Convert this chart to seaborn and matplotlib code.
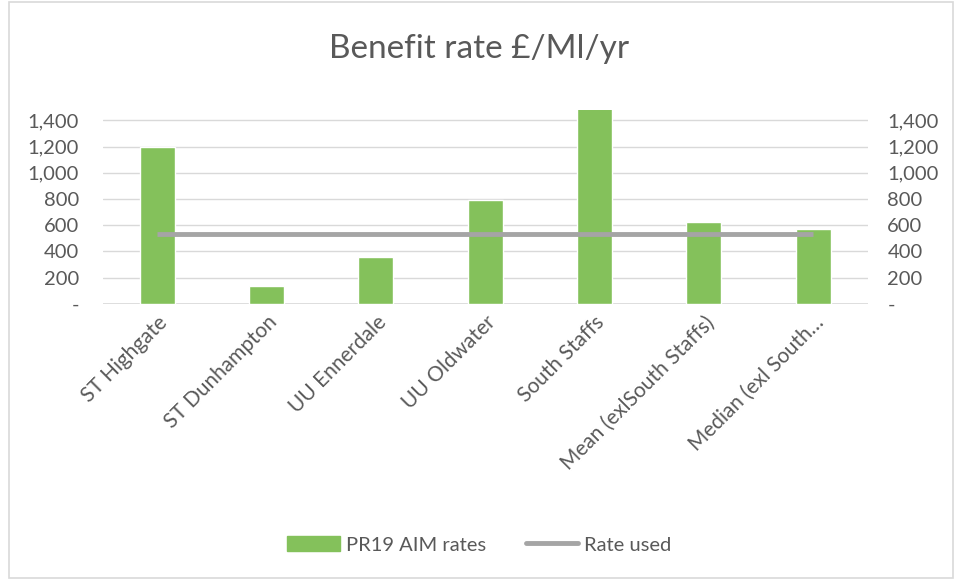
import numpy as np
import seaborn as sns
import matplotlib.pyplot as plt
from matplotlib.patches import Rectangle, Patch
from matplotlib.lines import Line2D

# data
categories = ['ST Highgate', 'ST Dunhampton', 'UU Ennerdale', 'UU Oldwater',
              'South Staffs', 'Mean (exlSouth Staffs)', 'Median (exl South\u2026']
aim_rates = [1200, 135, 360, 795, 2400, 625, 570]
rate_used = [535, 535, 535, 535, 535, 535, 535]
yticks = [0, 200, 400, 600, 800, 1000, 1200, 1400]
ytick_labels = ['-', '200', '400', '600', '800', '1,000', '1,200', '1,400']

sns.set_style('white')
plt.rcParams['font.family'] = ['Lato', 'DejaVu Sans']
grey_txt = '#595959'
green = '#84C15B'
line_grey = '#A5A5A5'

fig = plt.figure(figsize=(9.59, 5.81), dpi=100)
ax = fig.add_axes([0.107, 0.477, 0.798, 0.334])

sns.barplot(x=categories, y=aim_rates, color=green, width=0.32,
            saturation=1, ax=ax, zorder=2)
ax.plot(np.arange(len(categories)), rate_used, color=line_grey, lw=3.5,
        solid_capstyle='butt', zorder=3)

ax.set_ylim(0, 1480)
ax.set_xlim(-0.5, len(categories) - 0.5)
ax.set_yticks(yticks)
ax.set_yticklabels(ytick_labels)
ax.yaxis.grid(True, color='#D9D9D9', lw=1)
ax.set_axisbelow(True)
for s in ax.spines.values():
    s.set_visible(False)
ax.axhline(0, color='#D9D9D9', lw=1.2, zorder=1)
ax.tick_params(axis='y', length=0, labelsize=14.5, labelcolor=grey_txt, pad=17)
ax.tick_params(axis='x', length=0, labelsize=15, labelcolor=grey_txt, pad=6)
plt.setp(ax.get_xticklabels(), rotation=45, ha='right', rotation_mode='anchor')

ax2 = ax.twinx()
ax2.set_ylim(ax.get_ylim())
ax2.set_yticks(yticks)
ax2.set_yticklabels(ytick_labels)
for s in ax2.spines.values():
    s.set_visible(False)
ax2.tick_params(axis='y', length=0, labelsize=14.5, labelcolor=grey_txt, pad=14)

fig.text(0.5, 0.915, 'Benefit rate \u00a3/Ml/yr', ha='center', va='center',
         fontsize=24, color=grey_txt)

handles = [Patch(color=green, label='PR19 AIM rates'),
           Line2D([0], [0], color=line_grey, lw=3.5, label='Rate used')]
fig.legend(handles=handles, loc='center', bbox_to_anchor=(0.5, 0.062), ncol=2,
           frameon=False, fontsize=14.5, labelcolor=grey_txt, handlelength=2.6,
           columnspacing=2.0, handletextpad=0.3)

fig.patches.append(Rectangle((0.009, 0.006), 0.985, 0.99, transform=fig.transFigure,
                             fill=False, edgecolor='#D9D9D9', lw=1.2))

fig.savefig('out.png', dpi=100)
